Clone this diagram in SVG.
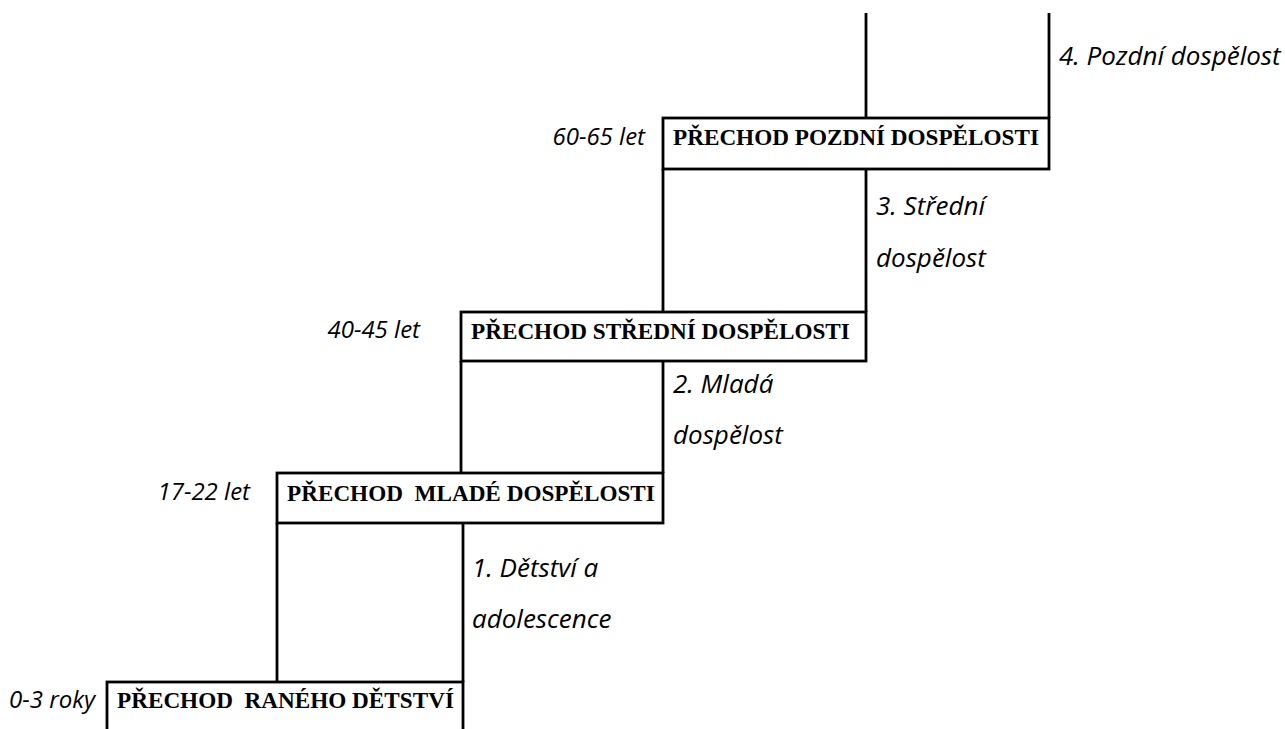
<svg xmlns="http://www.w3.org/2000/svg" width="1285" height="729" viewBox="0 0 1285 729">
<style>
.box{fill:#fff;stroke:#000;stroke-width:2.8}
.ln{stroke:#000;stroke-width:2.8;fill:none}
.bt{font-family:"Liberation Serif","Times New Roman",serif;font-weight:bold;font-size:23.2px;fill:#000;white-space:pre}
.lb{font-family:"Open Sans","Liberation Sans",sans-serif;font-style:italic;font-size:26px;fill:#000}
.ag{font-size:24px}
</style>
<rect width="1285" height="729" fill="#fff"/>
<g id="connectors">
<line class="ln" x1="277" y1="523" x2="277" y2="682"/>
<line class="ln" x1="463" y1="523" x2="463" y2="682"/>
<line class="ln" x1="461" y1="361" x2="461" y2="473"/>
<line class="ln" x1="663" y1="361" x2="663" y2="473"/>
<line class="ln" x1="663" y1="169" x2="663" y2="312"/>
<line class="ln" x1="866" y1="169" x2="866" y2="312"/>
<line class="ln" x1="866" y1="13" x2="866" y2="118"/>
<line class="ln" x1="1049" y1="13" x2="1049" y2="118"/>
</g>
<g id="node1">
<rect class="box" x="107" y="682" width="356" height="60"/>
<text class="bt" x="117" y="708" xml:space="preserve">PŘECHOD  RANÉHO DĚTSTVÍ</text>
</g>
<g id="node2">
<rect class="box" x="277" y="473" width="386" height="50"/>
<text class="bt" x="287" y="501" xml:space="preserve">PŘECHOD  MLADÉ DOSPĚLOSTI</text>
</g>
<g id="node3">
<rect class="box" x="461" y="312" width="405" height="49"/>
<text class="bt" x="471" y="339">PŘECHOD STŘEDNÍ DOSPĚLOSTI</text>
</g>
<g id="node4">
<rect class="box" x="663" y="118" width="386" height="51"/>
<text class="bt" x="673" y="145">PŘECHOD POZDNÍ DOSPĚLOSTI</text>
</g>
<g id="labels">
<text class="lb ag" x="95" y="708" text-anchor="end">0-3 roky</text>
<text class="lb ag" x="250" y="500" text-anchor="end">17-22 let</text>
<text class="lb ag" x="420" y="338" text-anchor="end">40-45 let</text>
<text class="lb ag" x="645" y="145" text-anchor="end">60-65 let</text>
<text class="lb" x="472" y="577">1. Dětství a</text>
<text class="lb" x="472" y="628">adolescence</text>
<text class="lb" x="673" y="393">2. Mladá</text>
<text class="lb" x="673" y="444">dospělost</text>
<text class="lb" x="876" y="215">3. Střední</text>
<text class="lb" x="876" y="267">dospělost</text>
<text class="lb" x="1059" y="65">4. Pozdní dospělost</text>
</g>
</svg>
